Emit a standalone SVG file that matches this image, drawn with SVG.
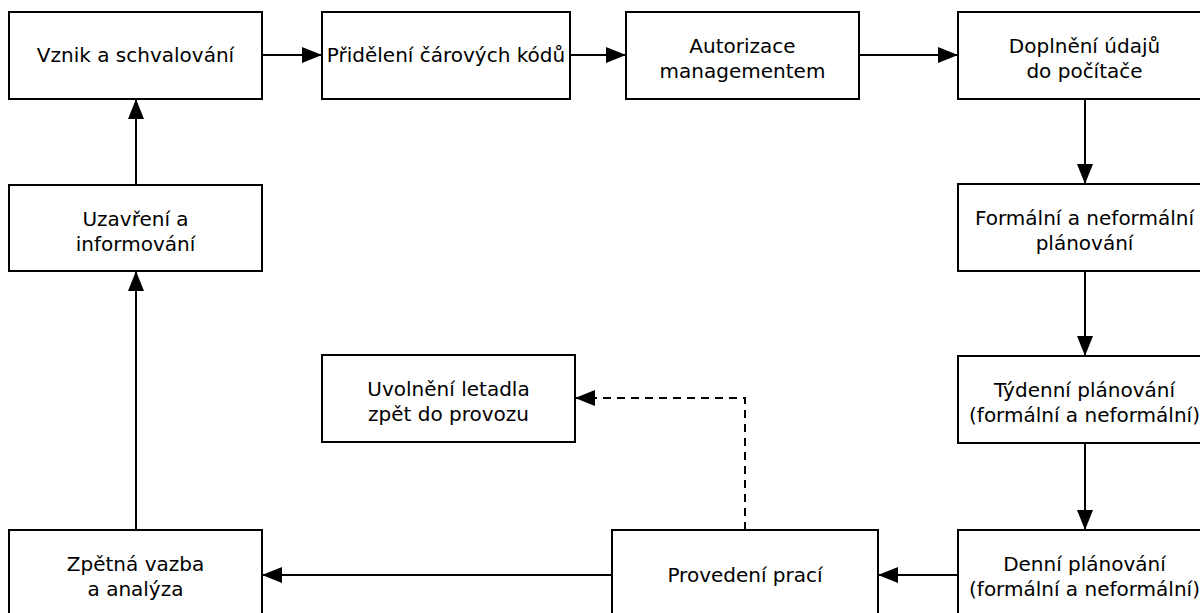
<svg xmlns="http://www.w3.org/2000/svg" width="1200" height="613" viewBox="0 0 1200 613">
  <style>
    .box { fill: #ffffff; stroke: #000000; stroke-width: 2; }
    .lbl { font-family: "DejaVu Sans", "Noto Sans", sans-serif; font-size: 20px; fill: #000000; text-anchor: middle; }
    .conn { fill: none; stroke: #000000; stroke-width: 2; }
    .dash { stroke-dasharray: 8 6; }
  </style>
  <defs>
    <marker id="arrow" viewBox="0 0 20 16" refX="20" refY="8" markerWidth="20" markerHeight="16" markerUnits="userSpaceOnUse" orient="auto">
      <path d="M0,0 L20,8 L0,16 Z" fill="#000000"/>
    </marker>
  </defs>
  <rect width="1200" height="613" fill="#ffffff"/>

  <g id="connectors">
    <path class="conn" d="M262,55 H322" marker-end="url(#arrow)"/>
    <path class="conn" d="M570,55 H626" marker-end="url(#arrow)"/>
    <path class="conn" d="M859,55 H958" marker-end="url(#arrow)"/>
    <path class="conn" d="M1085,99 V184" marker-end="url(#arrow)"/>
    <path class="conn" d="M1085,271 V356" marker-end="url(#arrow)"/>
    <path class="conn" d="M1085,443 V530" marker-end="url(#arrow)"/>
    <path class="conn" d="M958,575 H878" marker-end="url(#arrow)"/>
    <path class="conn" d="M612,575 H262" marker-end="url(#arrow)"/>
    <path class="conn" d="M136,530 V271" marker-end="url(#arrow)"/>
    <path class="conn" d="M136,185 V99" marker-end="url(#arrow)"/>
    <path class="conn dash" d="M745,530 V398 H575" marker-end="url(#arrow)"/>
  </g>

  <g id="vznik">
    <rect class="box" x="9" y="12" width="253" height="87"/>
    <text class="lbl" x="135.5" y="62">Vznik a schvalování</text>
  </g>
  <g id="prideleni">
    <rect class="box" x="322" y="12" width="248" height="87"/>
    <text class="lbl" x="446" y="62">Přidělení čárových kódů</text>
  </g>
  <g id="autorizace">
    <rect class="box" x="626" y="12" width="233" height="87"/>
    <text class="lbl" x="742.5" y="53">Autorizace</text>
    <text class="lbl" x="742.5" y="78">managementem</text>
  </g>
  <g id="doplneni">
    <rect class="box" x="958" y="12" width="253" height="87"/>
    <text class="lbl" x="1084.5" y="53">Doplnění údajů</text>
    <text class="lbl" x="1084.5" y="78">do počítače</text>
  </g>
  <g id="formalni">
    <rect class="box" x="958" y="184" width="253" height="87"/>
    <text class="lbl" x="1084.5" y="225">Formální a neformální</text>
    <text class="lbl" x="1084.5" y="250">plánování</text>
  </g>
  <g id="tydenni">
    <rect class="box" x="958" y="356" width="253" height="87"/>
    <text class="lbl" x="1084.5" y="397">Týdenní plánování</text>
    <text class="lbl" x="1084.5" y="422">(formální a neformální)</text>
  </g>
  <g id="denni">
    <rect class="box" x="958" y="530" width="253" height="90"/>
    <text class="lbl" x="1084.5" y="571">Denní plánování</text>
    <text class="lbl" x="1084.5" y="596">(formální a neformální)</text>
  </g>
  <g id="provedeni">
    <rect class="box" x="612" y="530" width="266" height="90"/>
    <text class="lbl" x="745" y="582">Provedení prací</text>
  </g>
  <g id="uvolneni">
    <rect class="box" x="322" y="355" width="253" height="87"/>
    <text class="lbl" x="448.5" y="396">Uvolnění letadla</text>
    <text class="lbl" x="448.5" y="421">zpět do provozu</text>
  </g>
  <g id="zpetna">
    <rect class="box" x="9" y="530" width="253" height="90"/>
    <text class="lbl" x="135.5" y="571">Zpětná vazba</text>
    <text class="lbl" x="135.5" y="596">a analýza</text>
  </g>
  <g id="uzavreni">
    <rect class="box" x="9" y="185" width="253" height="86"/>
    <text class="lbl" x="135.5" y="226">Uzavření a</text>
    <text class="lbl" x="135.5" y="251">informování</text>
  </g>
</svg>
